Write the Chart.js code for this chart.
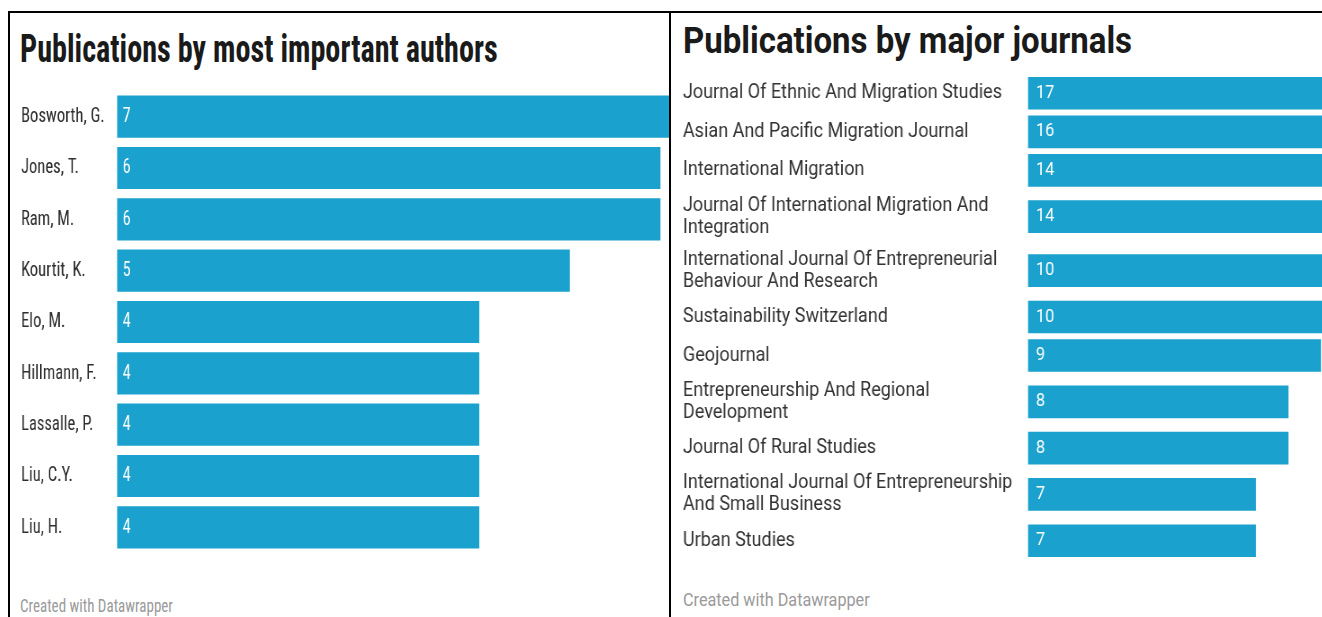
<!DOCTYPE html>
<html><head><meta charset="utf-8">
<script src="https://cdn.jsdelivr.net/npm/chart.js@4/dist/chart.umd.min.js"></script>
<style>
html,body{margin:0;padding:0;background:#fff;overflow:hidden;width:1322px;height:617px;}
.line{position:absolute;background:#000;}
.panel{position:absolute;overflow:hidden;background:#fff;}
.title{position:absolute;white-space:nowrap;color:#1a1a1a;font-weight:700;transform-origin:0 0;}
.foot{position:absolute;white-space:nowrap;color:#9a9a9a;transform-origin:0 0;}
canvas{position:absolute;transform-origin:0 0;}
</style></head>
<body>
<div class="panel" id="leftPanel" style="left:10px;top:13px;width:659px;height:604px;">
  <div class="title" style="left:10px;top:14px;font-family:'Roboto Condensed';font-size:38px;line-height:44px;transform:scaleX(0.795);">Publications by most important authors</div>
  <canvas id="authors" width="938" height="462" style="left:0px;top:78.3px;transform:scaleX(0.79);"></canvas>
  <div class="foot" style="left:10px;top:582px;font-family:'Roboto Condensed';font-size:19px;line-height:22px;transform:scaleX(0.79);">Created with Datawrapper</div>
</div>
<div class="panel" id="rightPanel" style="left:671px;top:13px;width:651px;height:604px;">
  <div class="title" style="left:12px;top:7.7px;font-family:Roboto;font-size:36px;line-height:40px;transform:scaleX(0.916);">Publications by major journals</div>
  <canvas id="journals" width="1011" height="486" style="left:0px;top:61.25px;transform:scaleX(0.9);"></canvas>
  <div class="foot" style="left:12px;top:576px;font-family:Roboto;font-size:18px;line-height:22px;transform:scaleX(0.9);">Created with Datawrapper</div>
</div>
<div class="line" style="left:8px;top:11px;width:1314px;height:2px;"></div>
<div class="line" style="left:8px;top:11px;width:2px;height:606px;"></div>
<div class="line" style="left:669px;top:11px;width:2px;height:606px;"></div>
<script>
// ---- data ----
const authorNames = ["Bosworth, G.", "Jones, T.", "Ram, M.", "Kourtit, K.", "Elo, M.", "Hillmann, F.", "Lassalle, P.", "Liu, C.Y.", "Liu, H."];
const authorCounts = [7, 6, 6, 5, 4, 4, 4, 4, 4];
const authorAxisMax = 7;

const journalNames = [
  "Journal Of Ethnic And Migration Studies",
  "Asian And Pacific Migration Journal",
  "International Migration",
  ["Journal Of International Migration And", "Integration"],
  ["International Journal Of Entrepreneurial", "Behaviour And Research"],
  "Sustainability Switzerland",
  "Geojournal",
  ["Entrepreneurship And Regional", "Development"],
  "Journal Of Rural Studies",
  ["International Journal Of Entrepreneurship", "And Small Business"],
  "Urban Studies"
];
const journalCounts = [17, 16, 14, 14, 10, 10, 9, 8, 8, 7, 7];
const journalAxisMax = 17;

const barColor = '#1ba1cd';

// ---- layout helpers (Datawrapper-like rows: taller rows for two-line labels) ----
const ROW_BASE = 38.5, ROW_EXTRA_LINE = 15.5;
const rowHeights = journalNames.map(l => ROW_BASE + ((Array.isArray(l) ? l.length : 1) - 1) * ROW_EXTRA_LINE);
const rowCenters = [];
rowHeights.reduce((acc, h) => { rowCenters.push(acc + h / 2); return acc + h; }, 0);
const rowsTotal = rowHeights.reduce((a, b) => a + b, 0);

const valueLabels = {
  id: 'valueLabels',
  afterDatasetsDraw(chart, args, opts) {
    const ctx = chart.ctx;
    const meta = chart.getDatasetMeta(0);
    ctx.save();
    ctx.font = opts.font;
    ctx.fillStyle = opts.color;
    ctx.textAlign = 'left';
    ctx.textBaseline = 'middle';
    meta.data.forEach((bar, i) => {
      ctx.fillText(String(opts.values[i]), bar.base + opts.offset, bar.y);
    });
    ctx.restore();
  }
};

// Authors chart (uniform category rows)
new Chart(document.getElementById('authors'), {
  type: 'bar',
  data: { labels: authorNames, datasets: [{ data: authorCounts, backgroundColor: barColor, borderWidth: 0,
    categoryPercentage: 1, barPercentage: 0.82 }] },
  options: {
    indexAxis: 'y', responsive: false, animation: false,
    layout: { padding: { left: 13.9, right: 0, top: 0, bottom: 0 } },
    plugins: { legend: { display: false }, tooltip: { enabled: false },
      valueLabels: { font: "21px 'Roboto Condensed'", color: '#ffffff', offset: 7, values: authorCounts } },
    scales: {
      x: { display: false, min: 0, max: authorAxisMax },
      y: {
        type: 'category',
        grid: { display: false, drawTicks: false }, border: { display: false },
        ticks: { crossAlign: 'far', color: '#2e2e2e', padding: 0, autoSkip: false,
          font: { family: "'Roboto Condensed'", size: 21, lineHeight: 1.2 } },
        afterFit(s) { s.width = 121.5; s.paddingTop = 0; s.paddingBottom = 0; }
      }
    }
  },
  plugins: [valueLabels]
});

// Journals chart (rows sized by label line count)
new Chart(document.getElementById('journals'), {
  type: 'bar',
  data: { datasets: [{ data: journalCounts.map((v, i) => ({ x: v, y: rowCenters[i] })),
    backgroundColor: barColor, borderWidth: 0, barThickness: 32 }] },
  options: {
    indexAxis: 'y', responsive: false, animation: false,
    layout: { padding: { left: 13.3, right: 0, top: 0, bottom: 0 } },
    plugins: { legend: { display: false }, tooltip: { enabled: false },
      valueLabels: { font: "18px Roboto", color: '#ffffff', offset: 9, values: journalCounts } },
    scales: {
      x: { type: 'linear', display: false, min: 0, max: journalAxisMax },
      y: {
        type: 'linear', reverse: true, min: 0, max: rowsTotal, offset: false,
        grid: { display: false, drawTicks: false, offset: false }, border: { display: false },
        afterBuildTicks(s) { s.ticks = rowCenters.map(v => ({ value: v })); },
        ticks: { crossAlign: 'far', color: '#333333', padding: 0, autoSkip: false,
          font: { family: 'Roboto', size: 20, lineHeight: 1.1 },
          callback: (value, index) => journalNames[index] },
        afterFit(s) { s.width = 383.3; s.paddingTop = 0; s.paddingBottom = 0; }
      }
    }
  },
  plugins: [valueLabels]
});
</script>
</body></html>
